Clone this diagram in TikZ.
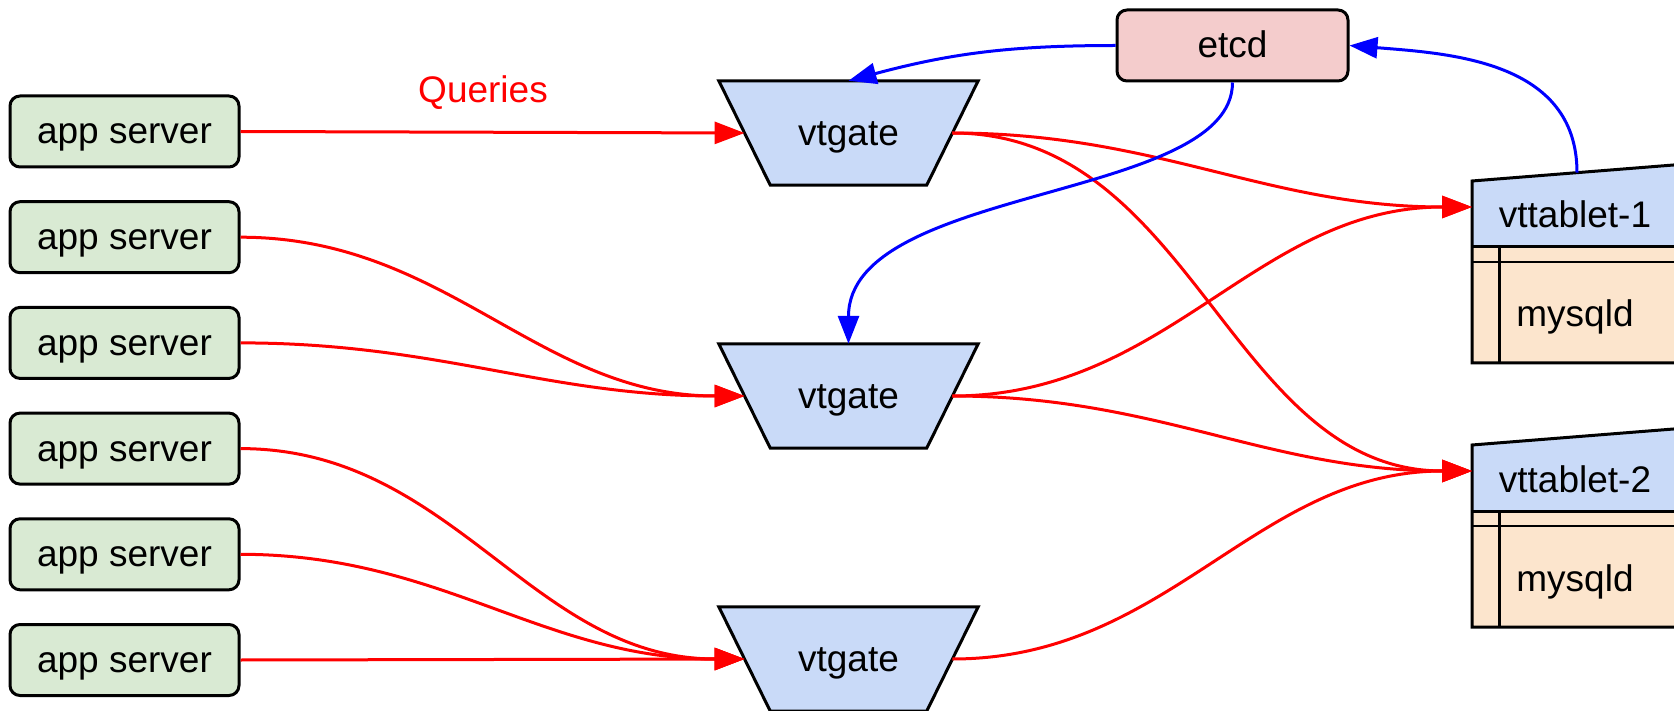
\documentclass[tikz,border=0pt]{standalone}
\usepackage{fontspec}
\setmainfont{Liberation Sans}
\usetikzlibrary{arrows.meta,calc,backgrounds}
\definecolor{appgreen}{HTML}{D9EAD3}
\definecolor{etcdred}{HTML}{F4CCCC}
\definecolor{gateblue}{HTML}{C9DAF8}
\definecolor{sqlorange}{HTML}{FCE5CD}
\definecolor{linered}{HTML}{FF0000}
\definecolor{lineblue}{HTML}{0000FF}
\begin{document}
\begin{tikzpicture}[x=1pt,y=-1pt,
  every node/.style={font=\fontsize{37}{44}\selectfont, inner sep=0pt, text height=25pt, text depth=0pt},
  app/.style={draw, line width=3pt, fill=appgreen, rounded corners=10pt, minimum width=229pt, minimum height=71pt},
  etcdbox/.style={draw, line width=3pt, fill=etcdred, rounded corners=10pt, minimum width=231pt, minimum height=71pt},
  gate/.style={minimum width=207.5pt, minimum height=104pt},
  gateshape/.style={draw, line width=3pt, fill=gateblue, line join=miter},
  tablet/.style={minimum width=206pt, minimum height=66pt},
  qflow/.style={draw=linered, line width=3pt, -{Triangle[length=30pt,width=22pt]}},
  tflow/.style={draw=lineblue, line width=3pt, -{Triangle[length=28pt,width=21pt]}},
  frame/.style={line width=3pt},
  thinframe/.style={line width=2pt}
]
\useasboundingbox (0,0) rectangle (1674,711);

% app servers
\node[app] (a1) at (124.5,131.5) {app server};
\node[app] (a2) at (124.5,237.2) {app server};
\node[app] (a3) at (124.5,342.9) {app server};
\node[app] (a4) at (124.5,448.6) {app server};
\node[app] (a5) at (124.5,554.3) {app server};
\node[app] (a6) at (124.5,660) {app server};

% vtgates
\node[gate] (g1) at (848.5,133) {vtgate};
\node[gate] (g2) at (848.5,396) {vtgate};
\node[gate] (g3) at (848.5,659) {vtgate};

% etcd
\node[etcdbox] (etcd) at (1232.5,45.5) {etcd};

% vttablets
\node[tablet] (t1) at (1575,215.5) {vttablet-1};
\node[tablet] (m1) at (1575,314.5) {mysqld};
\node[tablet] (t2) at (1575,479.5) {vttablet-2};
\node[tablet] (m2) at (1575,578.5) {mysqld};

\begin{scope}[on background layer]
  \foreach \g in {g1,g2,g3}
    \draw[gateshape] ($(\g.north west)+(-25.75,0)$) -- ($(\g.north east)+(25.75,0)$)
      -- ($(\g.south east)+(-25.75,0)$) -- ($(\g.south west)+(25.75,0)$) -- cycle;
  \foreach \dy in {0,264}{
    \begin{scope}[shift={(0,\dy)}]
      \fill[sqlorange] (1472,247) rectangle (1700,363);
      \fill[gateblue] (1472,181) -- (1700,162.9) -- (1700,247) -- (1472,247) -- cycle;
      \draw[frame] (1472,247) -- (1700,247);
      \draw[thinframe] (1472,262) -- (1700,262);
      \draw[frame] (1499,247) -- (1499,363);
      \draw[frame, line join=miter] (1700,162.9) -- (1472,181) -- (1472,363) -- (1700,363);
    \end{scope}
  }
\end{scope}

\coordinate (t1in) at (1472,207);
\coordinate (t2in) at (1472,471);
\coordinate (t1top) at (1577,172.6);

% query flows
\draw[qflow] (a1.east) -- (g1.west);
\node[text=linered] (q) at (483,90) {Queries};
\draw[qflow] (a2.east) to[out=0,in=180] (g2.west);
\draw[qflow] (a3.east) to[out=0,in=180] (g2.west);
\draw[qflow] (a4.east) to[out=0,in=180] (g3.west);
\draw[qflow] (a5.east) to[out=0,in=180] (g3.west);
\draw[qflow] (a6.east) -- (g3.west);
\draw[qflow] (g1.east) to[out=0,in=180] (t1in);
\draw[qflow] (g1.east) to[out=0,in=180] (t2in);
\draw[qflow] (g2.east) to[out=0,in=180] (t1in);
\draw[qflow] (g2.east) to[out=0,in=180] (t2in);
\draw[qflow] (g3.east) to[out=0,in=180] (t2in);

% topology flows
\draw[tflow] (etcd.west) to[out=180,in=15] (g1.north);
\draw[tflow] (etcd.south) .. controls +(0,119) and +(0,-159) .. (g2.north);
\draw[tflow] (t1top) .. controls +(0,-112) and +(100,8) .. (etcd.east);
\end{tikzpicture}
\end{document}
